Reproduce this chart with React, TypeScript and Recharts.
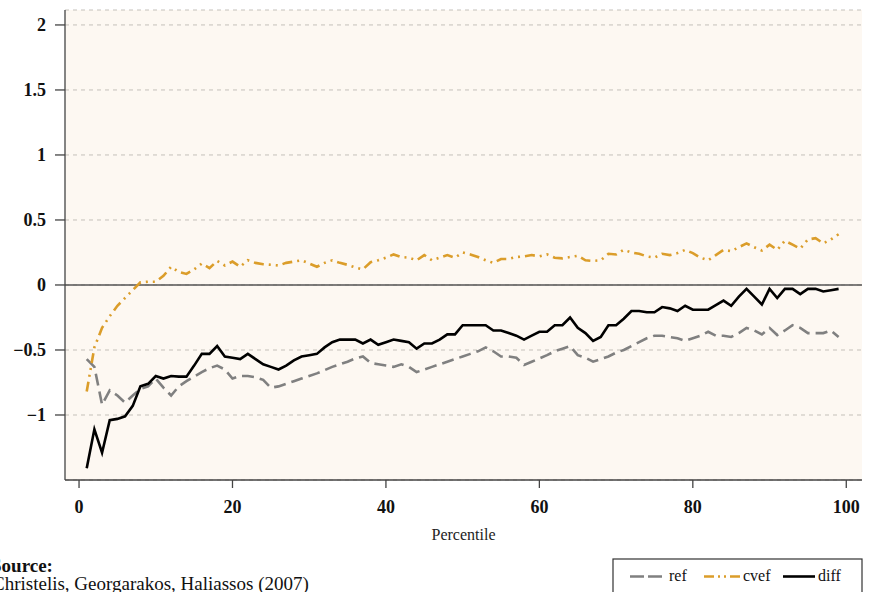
import React from 'react';
import { LineChart, Line, XAxis, YAxis, CartesianGrid, ReferenceLine } from 'recharts';

const percentiles = [
  1, 2, 3, 4, 5, 6, 7, 8, 9, 10, 11, 12, 13, 14, 15, 16, 17, 18, 19, 20,
  21, 22, 23, 24, 25, 26, 27, 28, 29, 30, 31, 32, 33, 34, 35, 36, 37, 38, 39, 40,
  41, 42, 43, 44, 45, 46, 47, 48, 49, 50, 51, 52, 53, 54, 55, 56, 57, 58, 59, 60,
  61, 62, 63, 64, 65, 66, 67, 68, 69, 70, 71, 72, 73, 74, 75, 76, 77, 78, 79, 80,
  81, 82, 83, 84, 85, 86, 87, 88, 89, 90, 91, 92, 93, 94, 95, 96, 97, 98, 99,
];

const refValues = [
  -0.57, -0.63, -0.92, -0.81, -0.85, -0.905, -0.85, -0.8, -0.78, -0.72,
  -0.79, -0.85, -0.78, -0.74, -0.705, -0.67, -0.64, -0.62, -0.65, -0.72,
  -0.7, -0.7, -0.71, -0.73, -0.79, -0.78, -0.76, -0.74, -0.72, -0.7,
  -0.68, -0.655, -0.63, -0.61, -0.59, -0.565, -0.55, -0.6, -0.61, -0.62,
  -0.63, -0.61, -0.63, -0.67, -0.65, -0.63, -0.61, -0.59, -0.57, -0.55,
  -0.53, -0.51, -0.48, -0.51, -0.55, -0.55, -0.56, -0.615, -0.59, -0.565,
  -0.54, -0.51, -0.49, -0.47, -0.54, -0.56, -0.59, -0.57, -0.55, -0.52,
  -0.5, -0.47, -0.44, -0.41, -0.39, -0.39, -0.4, -0.41, -0.43, -0.41,
  -0.39, -0.36, -0.39, -0.39, -0.4, -0.37, -0.33, -0.35, -0.38, -0.33,
  -0.385, -0.35, -0.31, -0.33, -0.37, -0.37, -0.37, -0.35, -0.4,
];

const cvefValues = [
  -0.82, -0.48, -0.33, -0.24, -0.16, -0.1, -0.04, 0.02, 0.025, 0.025,
  0.07, 0.14, 0.1, 0.085, 0.12, 0.165, 0.13, 0.185, 0.15, 0.18,
  0.14, 0.19, 0.17, 0.16, 0.155, 0.15, 0.17, 0.18, 0.19, 0.165,
  0.14, 0.17, 0.19, 0.17, 0.155, 0.135, 0.12, 0.175, 0.19, 0.21,
  0.235, 0.215, 0.21, 0.19, 0.23, 0.19, 0.21, 0.23, 0.21, 0.25,
  0.235, 0.215, 0.19, 0.17, 0.2, 0.2, 0.215, 0.22, 0.23, 0.22,
  0.235, 0.21, 0.205, 0.215, 0.225, 0.19, 0.185, 0.19, 0.24, 0.235,
  0.27, 0.25, 0.24, 0.22, 0.21, 0.24, 0.23, 0.245, 0.27, 0.245,
  0.21, 0.19, 0.23, 0.27, 0.26, 0.29, 0.32, 0.29, 0.265, 0.31,
  0.27, 0.34, 0.31, 0.28, 0.35, 0.36, 0.32, 0.35, 0.39,
];

const diffValues = [
  -1.41, -1.11, -1.29, -1.04, -1.03, -1.01, -0.93, -0.78, -0.76, -0.7,
  -0.72, -0.7, -0.705, -0.705, -0.62, -0.53, -0.53, -0.47, -0.55, -0.56,
  -0.57, -0.53, -0.57, -0.61, -0.63, -0.65, -0.62, -0.58, -0.55, -0.54,
  -0.53, -0.48, -0.44, -0.42, -0.42, -0.42, -0.45, -0.42, -0.46, -0.44,
  -0.42, -0.43, -0.44, -0.49, -0.45, -0.45, -0.42, -0.38, -0.38, -0.31,
  -0.31, -0.31, -0.31, -0.35, -0.35, -0.37, -0.39, -0.42, -0.39, -0.36,
  -0.36, -0.31, -0.31, -0.25, -0.33, -0.37, -0.43, -0.4, -0.31, -0.31,
  -0.26, -0.2, -0.2, -0.21, -0.21, -0.17, -0.18, -0.2, -0.16, -0.19,
  -0.19, -0.19, -0.155, -0.12, -0.16, -0.09, -0.03, -0.09, -0.15, -0.03,
  -0.1, -0.03, -0.03, -0.07, -0.03, -0.03, -0.05, -0.04, -0.03,
];

const xTicks = [0, 20, 40, 60, 80, 100];
const yTicks = [-1, -0.5, 0, 0.5, 1, 1.5, 2];

const seriesNames = ['ref', 'cvef', 'diff'];
const sourceTitle = 'Source:';
const sourceText = 'Christelis, Georgarakos, Haliassos (2007)';
const xLabel = 'Percentile';

const data = percentiles.map((p, i) => ({
  p,
  ref: refValues[i],
  cvef: cvefValues[i],
  diff: diffValues[i],
}));

const FONT = '"Liberation Serif", "DejaVu Serif", serif';
const GRAY = '#808080';
const ORANGE = '#DB9D2A';
const BLACK = '#000000';

const fmtY = (v: number) => (v < 0 ? '\u2212' + Math.abs(v) : String(v));

export default function App() {
  return (
    <div
      style={{
        position: 'absolute',
        left: 0,
        top: 0,
        width: 872,
        height: 592,
        background: '#ffffff',
        overflow: 'hidden',
        fontFamily: FONT,
      }}
    >
      <LineChart
        width={872}
        height={592}
        data={data}
        margin={{ top: 10, right: 10, bottom: 0, left: 0 }}
      >
        <CartesianGrid
          vertical={false}
          fill="#FDF8F2"
          fillOpacity={1}
          stroke="#C4C0BA"
          strokeDasharray="4 4"
        />
        <XAxis
          dataKey="p"
          type="number"
          domain={[-1.83, 102.05]}
          allowDataOverflow
          ticks={xTicks}
          height={112}
          tickSize={8}
          tickMargin={12}
          stroke="#444"
          strokeWidth={1.3}
          tick={{ fill: '#111', fontSize: 18, fontWeight: 'bold', fontFamily: FONT }}
          label={{
            value: xLabel,
            position: 'insideTop',
            offset: 49,
            fill: '#222',
            fontSize: 16,
            fontFamily: FONT,
          }}
        />
        <YAxis
          type="number"
          domain={[-1.5, 2.115]}
          allowDataOverflow
          ticks={yTicks}
          width={65}
          tickSize={10}
          tickMargin={9}
          stroke="#444"
          strokeWidth={1.3}
          tickFormatter={fmtY}
          tick={{ fill: '#111', fontSize: 18, fontWeight: 'bold', fontFamily: FONT }}
        />
        <ReferenceLine y={0} stroke="#555" strokeWidth={1.3} />
        <Line
          type="linear"
          dataKey="ref"
          name={seriesNames[0]}
          stroke={GRAY}
          strokeWidth={2.6}
          strokeDasharray="12 6"
          dot={false}
          isAnimationActive={false}
        />
        <Line
          type="linear"
          dataKey="cvef"
          name={seriesNames[1]}
          stroke={ORANGE}
          strokeWidth={2.6}
          strokeDasharray="10 5 2 5 2 5"
          dot={false}
          isAnimationActive={false}
        />
        <Line
          type="linear"
          dataKey="diff"
          name={seriesNames[2]}
          stroke={BLACK}
          strokeWidth={2.6}
          dot={false}
          isAnimationActive={false}
        />
      </LineChart>

      <svg
        width={872}
        height={592}
        style={{ position: 'absolute', left: 0, top: 0, pointerEvents: 'none' }}
      >
        <text x={-9} y={572} fontFamily={FONT} fontSize={19} fontWeight="bold" fill="#111">
          {sourceTitle}
        </text>
        <text x={-8} y={590} fontFamily={FONT} fontSize={19} fill="#111">
          {sourceText}
        </text>

        <rect x={613} y={559} width={249} height={50} fill="#ffffff" stroke="#333" strokeWidth={1.2} />
        <line x1={630} y1={576.5} x2={664} y2={576.5} stroke={GRAY} strokeWidth={2.6} strokeDasharray="14 4" />
        <text x={669} y={581} fontFamily={FONT} fontSize={16} fill="#111">
          {seriesNames[0]}
        </text>
        <line x1={704} y1={576.5} x2={740} y2={576.5} stroke={ORANGE} strokeWidth={2.6} strokeDasharray="10 4 2 4 2 4" />
        <text x={743} y={581} fontFamily={FONT} fontSize={16} fill="#111">
          {seriesNames[1]}
        </text>
        <line x1={783} y1={576.5} x2={815} y2={576.5} stroke={BLACK} strokeWidth={2.6} />
        <text x={818} y={581} fontFamily={FONT} fontSize={16} fill="#111">
          {seriesNames[2]}
        </text>
      </svg>
    </div>
  );
}
